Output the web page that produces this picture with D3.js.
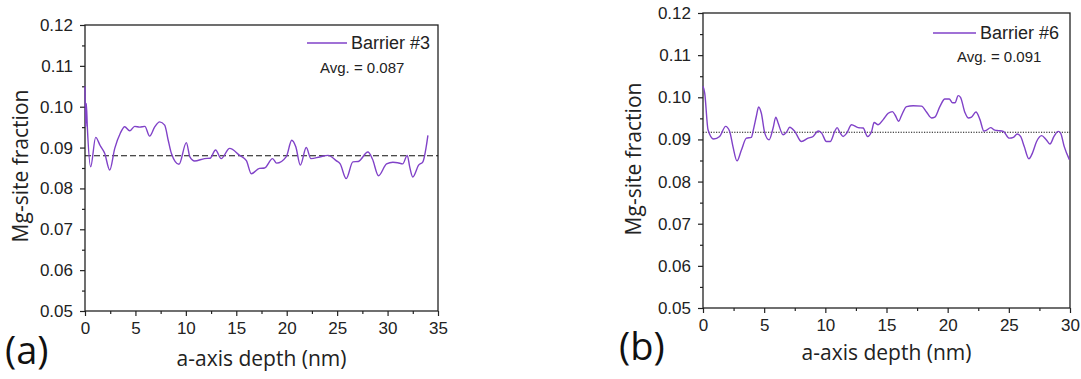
<!DOCTYPE html>
<html><head><meta charset="utf-8">
<script src="https://cdn.jsdelivr.net/npm/d3@7"></script>
<style>body{margin:0;background:#fff}svg{display:block}</style>
</head><body>
<svg id="c" width="1081" height="379"></svg>
<script>
// ---- data ----
const yTicks = [0.05,0.06,0.07,0.08,0.09,0.10,0.11,0.12];
const aXTicks = [0,5,10,15,20,25,30,35];
const bXTicks = [0,5,10,15,20,25,30];
const aDepth = [0,0.07,0.13,0.23,0.56,1.06,1.5,1.95,2.45,2.95,3.5,3.93,4.43,4.93,5.43,5.93,6.41,6.9,7.4,7.9,8.25,8.56,9.32,10.05,10.4,10.87,11.85,12.4,12.95,13.5,14.34,15.33,16.0,16.49,17.3,17.8,18.6,19.0,19.96,20.5,20.9,21.35,21.94,22.4,23.26,24.1,24.9,25.3,25.9,26.56,27.1,28.05,28.5,29.1,29.9,30.53,31.0,31.5,31.95,32.2,32.5,33.08,33.5,33.83,34.0];
const aFrac  = [0.1050,0.0951,0.1008,0.0951,0.0853,0.0925,0.0905,0.0886,0.0845,0.0898,0.0935,0.0951,0.0941,0.0952,0.0950,0.0952,0.0928,0.0950,0.0963,0.0955,0.0918,0.0886,0.0859,0.0912,0.0877,0.0867,0.0873,0.0874,0.0894,0.0873,0.0898,0.0881,0.0868,0.0836,0.0849,0.0850,0.0873,0.0862,0.0878,0.0918,0.0902,0.0857,0.0900,0.0873,0.0877,0.0881,0.0868,0.0860,0.0824,0.0865,0.0866,0.0889,0.0872,0.0831,0.0860,0.0864,0.0863,0.0860,0.0881,0.0852,0.0828,0.0857,0.0865,0.0902,0.0930];
const bDepth = [0,0.14,0.41,0.87,1.36,1.85,2.18,2.45,2.78,3.14,3.55,3.95,4.15,4.36,4.55,4.77,5.05,5.4,5.73,5.95,6.14,6.55,6.82,7.09,7.5,8.05,8.59,9.0,9.41,9.7,10.09,10.4,10.77,10.96,11.2,11.45,11.75,12.14,12.68,13.09,13.45,13.78,13.99,14.32,14.73,15.14,15.49,15.7,16.0,16.2,16.64,17.18,17.86,18.27,18.68,18.95,19.36,19.77,20.13,20.4,20.6,20.86,21.05,21.41,21.68,21.95,22.31,22.64,22.96,23.18,23.51,23.86,24.14,24.55,25.04,25.37,25.69,25.96,26.26,26.64,26.92,27.27,27.68,28.04,28.36,28.69,29.04,29.23,29.53,29.95];
const bFrac  = [0.1026,0.1010,0.0923,0.0901,0.0907,0.0931,0.0919,0.0883,0.0849,0.0875,0.0903,0.0905,0.0927,0.0955,0.0977,0.0962,0.0915,0.0899,0.0927,0.0953,0.0939,0.0911,0.0917,0.0929,0.0919,0.0895,0.0903,0.0907,0.0920,0.0915,0.0895,0.0895,0.0919,0.0928,0.0916,0.0907,0.0915,0.0935,0.0928,0.0927,0.0907,0.0919,0.0940,0.0935,0.0947,0.0962,0.0966,0.0958,0.0943,0.0955,0.0978,0.0980,0.0979,0.0965,0.0951,0.0953,0.0978,0.0996,0.0996,0.0987,0.0987,0.1004,0.1000,0.0964,0.0951,0.0953,0.0965,0.0947,0.0920,0.0922,0.0928,0.0922,0.0921,0.0919,0.0903,0.0905,0.0913,0.0907,0.0883,0.0854,0.0867,0.0895,0.0909,0.0900,0.0889,0.0907,0.0919,0.0915,0.0883,0.0852];
const aAvgLine = 0.0880, bAvgLine = 0.0917;
const aName = "Barrier #3", bName = "Barrier #6";
const aAvgText = "Avg. = 0.087", bAvgText = "Avg. = 0.091";

const svg = d3.select("#c");
const purple = "#8042c8";
const tickFont = "'Liberation Sans', Arial, sans-serif";
const titleFont = "'Open Sans', 'Noto Sans', sans-serif";

function panel(o){
  const g = svg.append("g");
  const x = d3.scaleLinear().domain([0, o.xmax]).range([o.l, o.r]);
  const y = d3.scaleLinear().domain([0.05, 0.12]).range([o.b, o.t]);
  const minorX = d3.range(2.5, o.xmax, 5);
  const minorY = d3.range(0.055, 0.12, 0.01);
  g.append("g").attr("transform",`translate(0,${o.b})`)
    .call(d3.axisBottom(x).tickValues(o.xt).tickSize(5).tickPadding(6).tickFormat(d3.format("d")));
  g.append("g").attr("transform",`translate(0,${o.b})`)
    .call(d3.axisBottom(x).tickValues(minorX).tickSize(3).tickFormat(""));
  g.append("g").attr("transform",`translate(${o.l},0)`)
    .call(d3.axisLeft(y).tickValues(yTicks).tickSize(5).tickPadding(7).tickFormat(d3.format(".2f")));
  g.append("g").attr("transform",`translate(${o.l},0)`)
    .call(d3.axisLeft(y).tickValues(minorY).tickSize(3).tickFormat(""));
  g.selectAll(".tick text").attr("font-family", tickFont).attr("font-size", 17).attr("fill","#222");
  g.selectAll(".tick line").attr("stroke","#222").attr("stroke-width",1.2);
  g.selectAll(".domain").remove();
  g.append("rect").attr("x",o.l).attr("y",o.t).attr("width",o.r-o.l).attr("height",o.b-o.t)
    .attr("fill","none").attr("stroke","#222").attr("stroke-width",1.3);
  // average line
  g.append("line").attr("x1",x(0)).attr("x2",x(o.xmax)).attr("y1",y(o.avg)).attr("y2",y(o.avg))
    .attr("stroke","#111").attr("stroke-width",1.2).attr("stroke-dasharray",o.dash);
  // data line
  const line = d3.line().x(d=>x(d[0])).y(d=>y(d[1])).curve(d3.curveMonotoneX);
  g.append("path").datum(d3.zip(o.xs,o.ys)).attr("d",line)
    .attr("fill","none").attr("stroke",purple).attr("stroke-width",1.4);
  // legend
  g.append("line").attr("x1",o.lg[0]).attr("x2",o.lg[1]).attr("y1",o.lg[2]).attr("y2",o.lg[2])
    .attr("stroke",purple).attr("stroke-width",1.4);
  g.append("text").attr("x",o.lg[1]+4).attr("y",o.lg[2]+6).text(o.name)
    .attr("font-family",tickFont).attr("font-size",18).attr("fill","#222");
  g.append("text").attr("x",o.avgPos[0]).attr("y",o.avgPos[1]).text(o.avgText)
    .attr("font-family",tickFont).attr("font-size",15).attr("fill","#222");
  // titles
  g.append("text").attr("x",(o.l+o.r)/2).attr("y",o.xl).attr("text-anchor","middle")
    .text("a-axis depth (nm)").attr("font-family",titleFont).attr("font-size",21).attr("fill","#222");
  g.append("text").attr("transform",`translate(${o.yl[0]},${o.yl[1]}) rotate(-90)`).attr("text-anchor","middle")
    .text("Mg-site fraction").attr("font-family",titleFont).attr("font-size",21).attr("fill","#222");
  g.append("text").attr("x",o.lab[0]).attr("y",o.lab[1]).text(o.label)
    .attr("font-family",titleFont).attr("font-size",38).attr("fill","#111");
}

panel({l:85,r:438,t:25,b:311,xmax:35,xt:aXTicks,xs:aDepth,ys:aFrac,avg:aAvgLine,dash:"6,3",
  lg:[307,347,43],name:aName,avgText:aAvgText,avgPos:[320,73],xl:366,yl:[28,166],lab:[5,364],label:"(a)"});
panel({l:703,r:1070,t:13,b:308,xmax:30,xt:bXTicks,xs:bDepth,ys:bFrac,avg:bAvgLine,dash:"1.2,1.4",
  lg:[933,976,33],name:bName,avgText:bAvgText,avgPos:[957,62],xl:360,yl:[641,159],lab:[619,360],label:"(b)"});
</script>
</body></html>
